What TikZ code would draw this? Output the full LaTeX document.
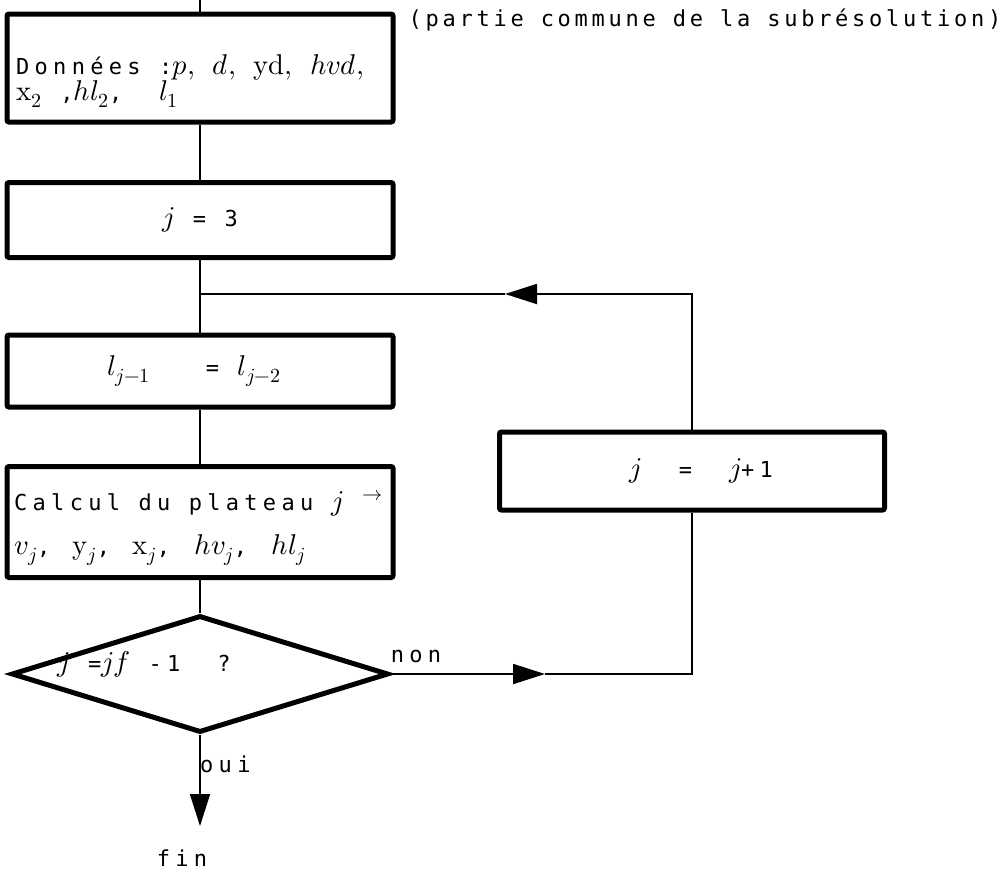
\documentclass[tikz,border=0pt]{standalone}
\usepackage{fontspec}
\usepackage{unicode-math}
\setmainfont{DejaVu Sans Mono}[LetterSpace=24]
\setmathfont{Latin Modern Math}[Scale=1.3]
\usetikzlibrary{arrows.meta,shapes.geometric}
\tikzset{
	bloc/.style={draw, line width=5pt, rounded corners=2pt, minimum width=386pt, inner sep=0pt},
	test/.style={draw, diamond, line width=5pt, minimum width=377pt, minimum height=117pt, inner sep=0pt},
	lien/.style={line width=1.8pt},
	fleche/.style={lien, -{Triangle[length=32pt,width=20pt]}},
	texte/.style={font=\fontsize{22}{26}\selectfont},
}

\begin{document}
\begin{tikzpicture}[x=1pt,y=-1pt,texte]
			%%%%% START %%%%%
			\useasboundingbox (0,0) rectangle (1006,876);
			
			% les blocs
			\node[bloc, minimum height=108pt] (donnees) at (200,68) {};
			\node[bloc, minimum height=75pt] (init) at (200,220) {$j$ = 3};
			\node[bloc, minimum height=72pt] (echange) at (200,371) {$l_{j-1}$ \ \ = $l_{j-2}$\kern12pt};
			\node[bloc, minimum height=111pt] (calcul) at (200,522) {};
			\node[bloc, minimum width=385pt, minimum height=78pt] (incr) at (692,471) {\ $j$ \ = \ $j$+1};
			\node[test] (question) at (200,674) {};
			
			% les textes
			\node[anchor=north west, align=left, inner sep=0pt] (donneestxt) at (16,54)
				{Donn\'ees :$p,\;\,d,\;\,\symup{yd},\;\,hvd,$\\ $\symup{x}_2$ ,$hl_2$, \ $l_1$};
			\node[anchor=north west, align=left, inner sep=0pt] (calcultxt) at (14,490)
				{Calcul du plateau $j$ $^{\rightarrow}$\\[18pt] $v_j$,\ \kern4pt$\symup{y}_j$,\ \kern4pt$\symup{x}_j$,\ \kern6pt$hv_j$,\ \kern6pt$hl_j$};
			\node (cond) at (144,664) {$j$ =$jf$ -1 \ ?};
			\node (titre) at (705,20) {\addfontfeatures{LetterSpace=17}(partie commune de la subr\'esolution)};
			\node (non) at (416,656) {non};
			\node[anchor=west, inner sep=1pt] (oui) at (199,764) {oui};
			\node (fin) at (182,858) {fin};
			
			% les points
			\coordinate (debut) at (200,0);
			\coordinate (jonction) at (200,294);
			\coordinate (pointe1) at (505,294);
			\coordinate (pointe2) at (545,674);
			\coordinate (pointe3) at (200,826);
			
			% les liaisons
			\draw[lien] (debut) -- (donnees);
			\draw[lien] (donnees) -- (init);
			\draw[lien] (init) -- (echange);
			\draw[lien] (echange) -- (calcul);
			\draw[lien] (calcul) -- (question);
			\draw[fleche] (incr.north) |- (pointe1);
			\draw[lien] (pointe1) -- (jonction);
			\draw[fleche] (question.east) -- (pointe2);
			\draw[lien] (pointe2) -| (incr.south);
			\draw[fleche] (question.south) -- (pointe3);
			
			%%%%% END %%%%%
\end{tikzpicture}
\end{document}
